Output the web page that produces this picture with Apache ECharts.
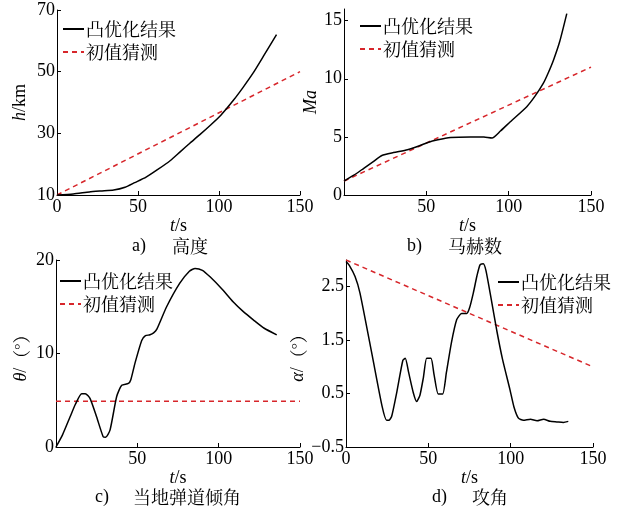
<!DOCTYPE html>
<html>
<head>
<meta charset="utf-8">
<script src="https://cdn.jsdelivr.net/npm/echarts@6/dist/echarts.min.js"></script>
<style>
html,body{margin:0;padding:0;background:#fff;}
#c{width:621px;height:509px;}
</style>
</head>
<body>
<div id="c"></div>
<script>
// ---------- data ----------
const seriesNames = ['凸优化结果', '初值猜测'];
const xTicks = [0, 50, 100, 150];

// a) altitude h / km
const hOpt = [[0,10],[10,10.3],[20,11],[27,11.3],[35,11.6],[42,12.5],[48,14],[55,15.8],[62,18.2],[70,21.2],[76,24],[82,26.8],[88,29.5],[95,32.8],[101,35.8],[109,40.8],[115,45],[121,49.5],[128,55.5],[135.5,62]];
const hInit = [[0,10],[150,50]];
const hTicks = [10, 30, 50, 70];

// b) Mach number
const maOpt = [[0,1.2],[6,1.7],[12,2.3],[18,2.9],[23,3.4],[30,3.65],[38.5,3.9],[45,4.2],[50.5,4.5],[57,4.75],[64.7,4.95],[76.8,5.0],[85,4.98],[89.9,4.9],[95,5.5],[101,6.3],[111,7.6],[116,8.5],[121,9.6],[124,10.5],[127.2,11.6],[131,13.2],[135.3,15.6]];
const maInit = [[0,1.2],[150,11]];
const maTicks = [0, 5, 10, 15];

// c) local flight path angle theta / deg
const thOpt = [[0,0],[4,1.3],[8.6,3.2],[12,4.6],[15.8,5.7],[18,5.7],[20.9,5.2],[25,3.2],[29,1.1],[30.5,1.05],[33.2,1.8],[37.3,5.4],[40.4,6.6],[44.5,6.8],[46,7.2],[48.6,9.0],[52.7,11.4],[55,11.9],[57.8,12.0],[60,12.2],[62,12.6],[68,15],[76,17.5],[82,18.8],[85.5,19.1],[90,18.9],[94.7,18.2],[102,16.9],[109,15.5],[115,14.5],[121.3,13.6],[128,12.7],[135.7,12.0]];
const thInit = [[0,4.9],[150,4.9]];
const thTicks = [0, 10, 20];

// d) angle of attack alpha / deg
const alOpt = [[0,2.97],[2,2.9],[5.5,2.69],[8.5,2.38],[16,1.2],[22,0.25],[24.7,0.0],[26,0.0],[27.7,0.07],[31,0.55],[34.5,1.12],[36,1.16],[38,0.9],[41,0.5],[42.9,0.35],[44.9,0.47],[47,0.8],[49,1.16],[51.6,1.16],[53.5,0.85],[56,0.49],[58.7,0.49],[61,0.9],[64,1.45],[67.2,1.88],[70.2,2.0],[73.3,2.0],[75,2.1],[77.3,2.38],[79.5,2.7],[81.4,2.91],[83.4,2.93],[85,2.8],[88,2.3],[91.5,1.69],[95,1.15],[99.6,0.57],[102,0.25],[104.7,0.04],[107.7,0.0],[112,0.02],[116,-0.01],[120,0.02],[124,-0.02],[128,-0.03],[132,-0.04],[135,-0.02]];
const alInit = [[0,3.0],[150,1.0]];
const alTicks = [-0.5, 0.5, 1.5, 2.5];

const captions = [
  ['a)', '高度'], ['b)', '马赫数'], ['c)', '当地弹道倾角'], ['d)', '攻角']
];

// ---------- styling ----------
const SERIF = '"Liberation Serif","Times New Roman","Noto Serif CJK SC","Noto Sans CJK SC",serif';
const CJK = '"Noto Serif CJK SC","Noto Sans CJK SC",serif';
const BLACK = '#000';
const RED = '#d7262b';

const grids = [
  {left:57, top:10, width:243, height:185},
  {left:344, top:9, width:247, height:186},
  {left:56, top:260, width:244, height:187},
  {left:346, top:260, width:247, height:187}
];

function xAxis(i, labelVals){
  return {
    type:'value', gridIndex:i, min:0, max:150,
    axisLine:{show:true, onZero:false, lineStyle:{color:BLACK, width:1}},
    axisTick:{show:true, inside:true, length:4, customValues:xTicks, lineStyle:{color:BLACK}},
    axisLabel:{customValues:labelVals, margin:3, color:BLACK, fontSize:18, fontFamily:SERIF},
    splitLine:{show:false},
    name:'{i|t}/s', nameLocation:'middle', nameGap:18,
    nameTextStyle:{color:BLACK, fontSize:18, fontFamily:SERIF, rich:{i:{fontStyle:'italic', fontSize:18, fontFamily:SERIF, color:BLACK}}}
  };
}
function yAxis(i, min, max, ticks, name, gap, fmt){
  return {
    type:'value', gridIndex:i, min:min, max:max,
    axisLine:{show:true, onZero:false, lineStyle:{color:BLACK, width:1}},
    axisTick:{show:true, inside:true, length:4, customValues:ticks, lineStyle:{color:BLACK}},
    axisLabel:{customValues:ticks, margin:2, color:BLACK, fontSize:18, fontFamily:SERIF, formatter:fmt},
    splitLine:{show:false},
    name:name, nameLocation:'middle', nameGap:gap, nameRotate:90,
    nameTextStyle:{color:BLACK, fontSize:18, fontFamily:SERIF,
      rich:{i:{fontStyle:'italic', fontSize:18, fontFamily:SERIF, color:BLACK},
            c:{fontSize:18, fontFamily:CJK, color:BLACK}}}
  };
}

function optLine(i, data){
  return {name:seriesNames[0], type:'line', xAxisIndex:i, yAxisIndex:i, data:data,
    symbol:'none', smooth:0.2, lineStyle:{color:BLACK, width:1.5}, itemStyle:{color:BLACK}, z:3};
}
function initLine(i, data){
  return {name:seriesNames[1], type:'line', xAxisIndex:i, yAxisIndex:i, data:data,
    symbol:'none', lineStyle:{color:RED, width:1.5, type:[5,4]}, itemStyle:{color:RED}, z:2};
}
function legend(left, top){
  return {data:seriesNames, orient:'vertical', left:left, top:top, itemWidth:21, itemHeight:10,
    itemGap:5, selectedMode:false, itemStyle:{opacity:0},
    textStyle:{fontSize:18, fontFamily:CJK, color:BLACK, padding:[0,0,0,-3]}};
}

const capPos = [[132,172,247],[407,448,247],[95,133,498],[432,472,498]];
const graphics = [];
captions.forEach((c, k) => {
  const p = capPos[k];
  graphics.push({type:'text', left:p[0], top:p[2]-10, style:{text:c[0], font:'18px '+SERIF, fill:BLACK}});
  graphics.push({type:'text', left:p[1], top:p[2]-10, style:{text:c[1], font:'18px '+CJK, fill:BLACK}});
});

const chart = echarts.init(document.getElementById('c'), null, {renderer:'canvas'});
chart.setOption({
  backgroundColor:'#fff',
  animation:false,
  grid:grids,
  xAxis:[xAxis(0,[0,50,100,150]), xAxis(1,[50,100,150]), xAxis(2,[50,100,150]), xAxis(3,[0,50,100,150])],
  yAxis:[
    yAxis(0, 10, 70, hTicks, '{i|h}/km', 28),
    yAxis(1, 0, 16, maTicks, '{i|Ma}', 20),
    yAxis(2, 0, 20, thTicks, '{i|θ}/{c|（°）}', 26),
    yAxis(3, -0.5, 3, alTicks, '{i|α}/{c|（°）}', 30, v => String(v).replace('-', '−'))
  ],
  legend:[legend(57, 15), legend(354, 12), legend(54, 267), legend(492, 268)],
  series:[
    optLine(0,hOpt), initLine(0,hInit),
    optLine(1,maOpt), initLine(1,maInit),
    optLine(2,thOpt), initLine(2,thInit),
    optLine(3,alOpt), initLine(3,alInit)
  ],
  graphic:graphics
});
</script>
</body>
</html>
